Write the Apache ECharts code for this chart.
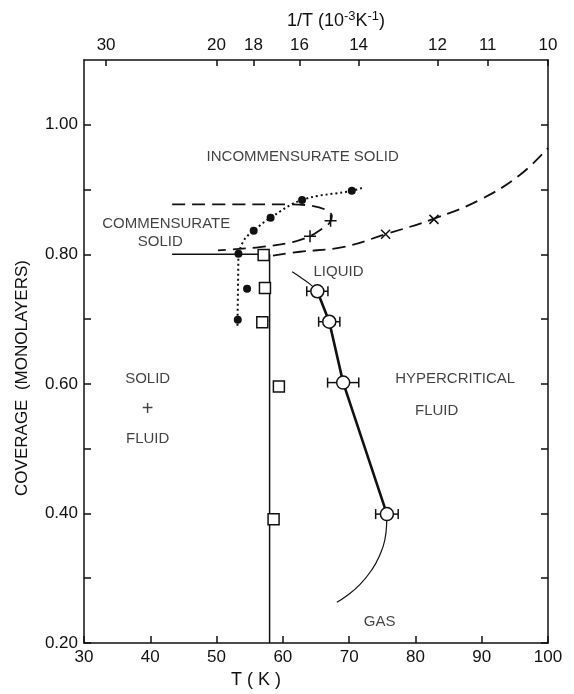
<!DOCTYPE html>
<html><head><meta charset="utf-8">
<script src="https://cdn.jsdelivr.net/npm/echarts@6/dist/echarts.min.js"></script>
<style>html,body{margin:0;padding:0;background:#fff}#c{width:574px;height:694px}</style>
</head><body><div id="c"></div>
<script>
// ---- data (T in K, coverage in monolayers) ----
const topTickLabels = [30, 20, 18, 16, 14, 12, 11, 10];      // 1/T in 1e-3 K^-1
const yLabelValues = [0.2, 0.4, 0.6, 0.8, 1.0];
const yTickValues = [0.2, 0.3, 0.4, 0.5, 0.6, 0.7, 0.8, 0.9, 1.0];

const solidBoundary = [[43.3, 0.80], [58.0, 0.80], [58.0, 0.20]];
const loopDashed = [[43.3, 0.877], [52, 0.877], [61.0, 0.877], [64.3, 0.875], [66.4, 0.869], [67.4, 0.859], [67.0, 0.848], [65.7, 0.838], [64.1, 0.828], [61.5, 0.819], [56.5, 0.811], [52.9, 0.808], [50.2, 0.806]];
const lowerDashed = [[58.5, 0.798], [62.6, 0.804], [69.0, 0.811], [75.5, 0.831], [82.8, 0.855], [89.7, 0.884], [95.7, 0.922], [100, 0.964]];
const dottedVertical = [[53.3, 0.801], [53.15, 0.688]];
const dottedCurve = [[53.3, 0.801], [54.2, 0.823], [55.6, 0.8365], [58.15, 0.8565], [62.9, 0.884], [70.4, 0.898], [72.1, 0.903]];
const liquidLine = [[65.2, 0.743], [67.0, 0.696], [69.1, 0.602], [75.7, 0.399]];
const liquidErr = [1.6, 1.6, 2.35, 1.7];
const upperThin = [[61.4, 0.773], [62.6, 0.765], [64.1, 0.754], [65.2, 0.743]];
const lowerThin = [[75.7, 0.399], [75.68, 0.39], [75.38, 0.359], [74.63, 0.336], [73.42, 0.313], [71.61, 0.29], [69.65, 0.273], [68.14, 0.263]];
const filledDots = [[53.3, 0.801], [54.6, 0.747], [53.2, 0.699], [55.6, 0.8365], [58.15, 0.8565], [62.9, 0.884], [70.4, 0.898]];
const openSquares = [[57.1, 0.799], [57.3, 0.748], [56.9, 0.695], [59.4, 0.596], [58.6, 0.391]];
const plusPts = [[64.1, 0.828], [67.2, 0.852]];
const crossPts = [[75.5, 0.831], [82.8, 0.854]];

const regionLabels = [
  ['INCOMMENSURATE SOLID', 63.0, 0.950, 15],
  ['COMMENSURATE', 42.4, 0.847, 15],
  ['SOLID', 41.5, 0.819, 15],
  ['LIQUID', 68.4, 0.773, 15],
  ['HYPERCRITICAL', 86.0, 0.608, 15],
  ['FLUID', 83.2, 0.558, 15],
  ['SOLID', 39.6, 0.607, 15],
  ['+', 39.6, 0.561, 20],
  ['FLUID', 39.6, 0.515, 15],
  ['GAS', 74.6, 0.232, 15]
];

const FONT = "'Liberation Sans', Arial, sans-serif";
const chart = echarts.init(document.getElementById('c'), null, {renderer: 'canvas'});
const black = '#111';
const lineSeries = (data, style, extra) => Object.assign({
  type: 'line', data, symbol: 'none', silent: true, smooth: false,
  lineStyle: Object.assign({color: black, width: 1.5}, style), z: 2
}, extra || {});

const option = {
  animation: false,
  backgroundColor: '#fff',
  grid: {left: 84, right: 26, top: 60, bottom: 51},
  xAxis: [{
    type: 'value', min: 30, max: 100, interval: 10, position: 'bottom',
    axisLine: {lineStyle: {color: black, width: 1.5}},
    axisTick: {inside: true, length: 7, lineStyle: {color: black, width: 1.5}},
    axisLabel: {color: black, fontSize: 17, fontFamily: FONT, margin: 6},
    splitLine: {show: false}
  }, {
    type: 'value', min: 30, max: 100, position: 'top',
    axisLine: {show: true, lineStyle: {color: black, width: 1.5}},
    axisTick: {inside: true, length: 6, customValues: topTickLabels.map(v => 1000 / v), lineStyle: {color: black, width: 1.5}},
    axisLabel: {color: black, fontSize: 17, fontFamily: FONT, margin: 6,
      customValues: topTickLabels.map(v => 1000 / v),
      formatter: v => String(Math.round(1000 / v))},
    splitLine: {show: false}
  }],
  yAxis: [{
    type: 'value', min: 0.2, max: 1.1, interval: 0.1, position: 'left',
    axisLine: {show: true, lineStyle: {color: black, width: 1.5}},
    axisTick: {inside: true, length: 7, customValues: yTickValues, lineStyle: {color: black, width: 1.5}},
    axisLabel: {color: black, fontSize: 17, fontFamily: FONT, margin: 6,
      customValues: yLabelValues, formatter: v => v.toFixed(2)},
    splitLine: {show: false}
  }, {
    type: 'value', min: 0.2, max: 1.1, interval: 0.1, position: 'right',
    axisLine: {show: true, lineStyle: {color: black, width: 1.5}},
    axisTick: {inside: true, length: 7, customValues: yTickValues, lineStyle: {color: black, width: 1.5}},
    axisLabel: {show: false}, splitLine: {show: false}
  }],
  graphic: [{
    type: 'text', x: 336, y: 21,
    style: {text: '1/T (10{s|-3}K{s|-1})', fill: black, fontSize: 18, fontFamily: FONT,
      align: 'center', verticalAlign: 'middle',
      rich: {s: {fontSize: 13, fontFamily: FONT, fill: black, verticalAlign: 'top', lineHeight: 22}}}
  }, {
    type: 'text', x: 256, y: 680,
    style: {text: 'T ( K )', fill: black, fontSize: 18, fontFamily: FONT, align: 'center', verticalAlign: 'middle'}
  }, {
    type: 'text', x: 22, y: 378, rotation: Math.PI / 2,
    style: {text: 'COVERAGE  (MONOLAYERS)', fill: black, fontSize: 17, fontFamily: FONT, align: 'center', verticalAlign: 'middle'}
  }],
  series: [
    lineSeries(solidBoundary, {width: 1.5}),
    lineSeries(loopDashed, {width: 1.8, type: [13, 7]}, {smooth: 0.35}),
    lineSeries(lowerDashed, {width: 1.8, type: [13, 7]}, {smooth: 0.4}),
    lineSeries(dottedVertical, {width: 2, type: [2, 3]}),
    lineSeries(dottedCurve, {width: 2, type: [2, 3]}, {smooth: 0.4}),
    lineSeries(liquidLine, {width: 2.6}),
    lineSeries(upperThin, {width: 1.2}, {smooth: 0.5}),
    lineSeries(lowerThin, {width: 1.2}, {smooth: 0.5}),
    {
      type: 'custom', silent: true, z: 3,
      data: liquidLine.map((p, i) => [p[0], p[1], liquidErr[i]]),
      renderItem: (params, api) => {
        const T = api.value(0), c = api.value(1), e = api.value(2);
        const a = api.coord([T - e, c]), b = api.coord([T + e, c]);
        const st = {stroke: black, lineWidth: 1.5};
        return {type: 'group', children: [
          {type: 'line', shape: {x1: a[0], y1: a[1], x2: b[0], y2: b[1]}, style: st},
          {type: 'line', shape: {x1: a[0], y1: a[1] - 5, x2: a[0], y2: a[1] + 5}, style: st},
          {type: 'line', shape: {x1: b[0], y1: b[1] - 5, x2: b[0], y2: b[1] + 5}, style: st}
        ]};
      }
    },
    {type: 'scatter', data: liquidLine, symbol: 'circle', symbolSize: 13, silent: true, z: 5,
      itemStyle: {color: '#fff', borderColor: black, borderWidth: 1.5, opacity: 1}},
    {type: 'scatter', data: filledDots, symbol: 'circle', symbolSize: 8, silent: true, z: 5,
      itemStyle: {color: black, opacity: 1}},
    {type: 'scatter', data: openSquares, symbol: 'rect', symbolSize: 11, silent: true, z: 5,
      itemStyle: {color: '#fff', borderColor: black, borderWidth: 1.5, opacity: 1}},
    {type: 'scatter', data: plusPts, symbol: 'path://M0,5L10,5M5,0L5,10', symbolSize: 12, silent: true, z: 5,
      itemStyle: {color: 'none', borderColor: black, borderWidth: 1.5, opacity: 1}},
    {type: 'scatter', data: crossPts, symbol: 'path://M0,0L10,10M10,0L0,10', symbolSize: 9, silent: true, z: 5,
      itemStyle: {color: 'none', borderColor: black, borderWidth: 1.5, opacity: 1}},
    {type: 'scatter', silent: true, z: 6, symbolSize: 0,
      data: regionLabels.map(r => ({value: [r[1], r[2]], name: r[0],
        label: {fontSize: r[3]}})),
      label: {show: true, position: 'inside', formatter: p => p.name, color: black,
        fontSize: 15, fontFamily: FONT}}
  ]
};
chart.setOption(option);
</script></body></html>
